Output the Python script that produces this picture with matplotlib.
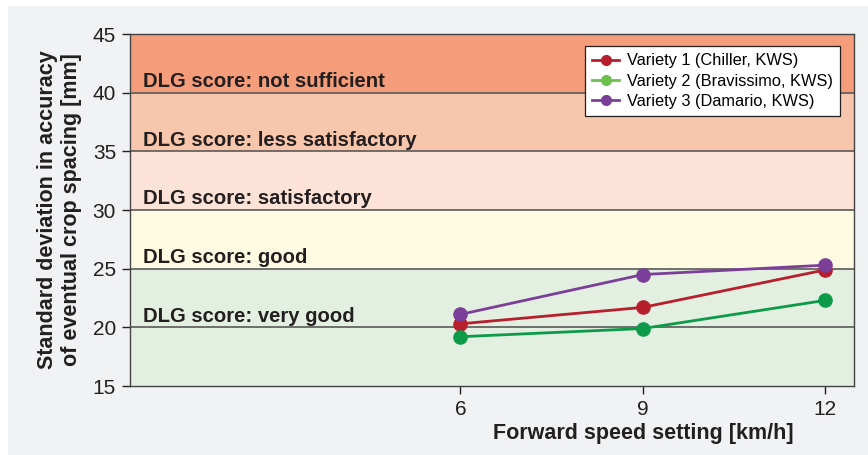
import matplotlib
matplotlib.use("Agg")
import matplotlib.pyplot as plt
from matplotlib.patches import Rectangle
from matplotlib.lines import Line2D

plt.rcParams['font.family'] = ['Liberation Sans', 'DejaVu Sans']

speeds = [6, 9, 12]
variety1 = [20.3, 21.7, 24.9]
variety2 = [19.2, 19.9, 22.3]
variety3 = [21.1, 24.5, 25.3]
series_names = ["Variety 1 (Chiller, KWS)", "Variety 2 (Bravissimo, KWS)", "Variety 3 (Damario, KWS)"]
band_edges = [15, 25, 30, 35, 40, 45]
band_labels = ["DLG score: very good", "DLG score: good", "DLG score: satisfactory",
               "DLG score: less satisfactory", "DLG score: not sufficient"]
band_label_y = [20.95, 25.95, 30.95, 35.95, 40.95]
yticks = [15, 20, 25, 30, 35, 40, 45]

band_colors = ["#e3efe0", "#fefbe2", "#fde2d7", "#f8c5ad", "#f59c7a"]
line_colors = ["#b81f2d", "#0d9a49", "#7b3f99"]
legend_colors = ["#b81f2d", "#6dbf4f", "#7b3f99"]

XMIN, XMAX = 0.57, 12.47

fig = plt.figure(figsize=(8.68, 4.55), dpi=100)
fig.patch.set_facecolor("white")
fig.patches.append(Rectangle((8/868, 0), 1 - 8/868, 1 - 6/455, transform=fig.transFigure,
                             facecolor="#f1f2f4", edgecolor="none", zorder=-10))

ax = fig.add_axes([130/868, 1 - 386/455, (854 - 130)/868, (386 - 34)/455])
ax.set_zorder(5)
ax.set_xlim(XMIN, XMAX)
ax.set_ylim(15, 45)

for i in range(len(band_labels)):
    ax.axhspan(band_edges[i], band_edges[i + 1], color=band_colors[i], zorder=0, lw=0)
    ax.text(0.785, band_label_y[i], band_labels[i], fontsize=14.6, fontweight="bold",
            color="#231f20", va="center", ha="left", zorder=2)
for y in [20, 25, 30, 35, 40]:
    ax.axhline(y, color="#5a5a5a", lw=1.2, zorder=1)

for vals, c in zip([variety1, variety2, variety3], line_colors):
    ax.plot(speeds, vals, color=c, lw=2, marker="o", markersize=9.5, zorder=3)

handles = [Line2D([0], [0], color=c, lw=2, marker="o", markersize=7) for c in legend_colors]
leg = ax.legend(handles, series_names, loc="upper right", bbox_to_anchor=(0.9807, 0.966),
                fontsize=11.8, frameon=True, fancybox=False, framealpha=1,
                edgecolor="#231f20", handlelength=1.65, borderpad=0.45, labelspacing=0.32,
                handletextpad=0.45, borderaxespad=0)
leg.get_frame().set_linewidth(0.9)

ax.set_xticks(speeds)
ax.set_xticklabels([str(s) for s in speeds])
ax.set_yticks(yticks)
ax.tick_params(axis="both", labelsize=15, colors="#231f20", length=6, width=1, direction="out", pad=4)
for s in ax.spines.values():
    s.set_color("#444444")
    s.set_linewidth(1)

ax.set_xlabel("Forward speed setting [km/h]", fontsize=15.5, fontweight="bold", color="#231f20", labelpad=3)
ax.xaxis.label.set_x((speeds[1] - XMIN) / (XMAX - XMIN))
ax.set_ylabel("Standard deviation in accuracy\nof eventual crop spacing [mm]", fontsize=15.5,
              fontweight="bold", color="#231f20", labelpad=8, linespacing=1.15)

fig.savefig("out.png", dpi=100, facecolor=fig.get_facecolor())
